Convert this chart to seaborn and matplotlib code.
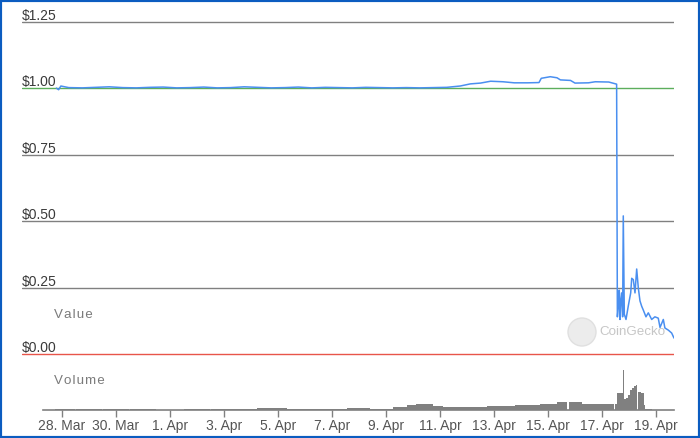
import pandas as pd
import numpy as np
import matplotlib
matplotlib.use("Agg")
import matplotlib.pyplot as plt
import matplotlib.dates as mdates
from matplotlib.patches import Rectangle, Circle
from matplotlib.transforms import IdentityTransform
import seaborn as sns

# price (USD)
price_time = [
    "2022-03-27 19:00", "2022-03-27 21:00", "2022-03-27 23:00", "2022-03-28 06:00", "2022-03-28 18:00",
    "2022-03-29 06:00", "2022-03-29 18:00", "2022-03-30 06:00", "2022-03-30 18:00", "2022-03-31 06:00",
    "2022-03-31 18:00", "2022-04-01 06:00", "2022-04-01 18:00", "2022-04-02 06:00", "2022-04-02 18:00",
    "2022-04-03 06:00", "2022-04-03 18:00", "2022-04-04 06:00", "2022-04-04 18:00", "2022-04-05 06:00",
    "2022-04-05 18:00", "2022-04-06 06:00", "2022-04-06 18:00", "2022-04-07 06:00", "2022-04-07 18:00",
    "2022-04-08 06:00", "2022-04-08 18:00", "2022-04-09 06:00", "2022-04-09 18:00", "2022-04-10 06:00",
    "2022-04-10 18:00", "2022-04-11 06:00", "2022-04-11 18:00", "2022-04-12 03:00", "2022-04-12 12:00",
    "2022-04-12 21:00", "2022-04-13 08:00", "2022-04-13 18:00", "2022-04-14 06:00", "2022-04-14 16:00",
    "2022-04-14 18:00", "2022-04-15 02:00", "2022-04-15 08:00", "2022-04-15 11:00", "2022-04-15 20:00",
    "2022-04-16 00:00", "2022-04-16 12:00", "2022-04-16 18:00", "2022-04-17 06:00", "2022-04-17 13:00",
    "2022-04-17 13:40", "2022-04-17 14:30", "2022-04-17 15:20", "2022-04-17 16:00", "2022-04-17 16:40",
    "2022-04-17 17:30", "2022-04-17 18:20", "2022-04-17 18:55", "2022-04-17 19:50", "2022-04-17 21:20",
    "2022-04-17 23:20", "2022-04-18 01:30", "2022-04-18 02:25", "2022-04-18 03:50", "2022-04-18 05:20",
    "2022-04-18 06:50", "2022-04-18 08:15", "2022-04-18 09:45", "2022-04-18 11:15", "2022-04-18 12:45",
    "2022-04-18 15:05", "2022-04-18 17:10", "2022-04-18 20:10", "2022-04-18 23:00", "2022-04-19 02:00",
    "2022-04-19 03:35", "2022-04-19 06:30", "2022-04-19 07:55", "2022-04-19 10:55", "2022-04-19 13:55",
    "2022-04-19 16:00",
]
price_value = [
    1.001, 0.995, 1.009, 1.003, 1.002,
    1.004, 1.006, 1.003, 1.002, 1.004,
    1.005, 1.002, 1.003, 1.005, 1.002,
    1.003, 1.006, 1.004, 1.002, 1.003,
    1.005, 1.002, 1.004, 1.003, 1.002,
    1.004, 1.003, 1.002, 1.003, 1.002,
    1.003, 1.004, 1.009, 1.017, 1.020,
    1.027, 1.025, 1.021, 1.021, 1.022,
    1.038, 1.044, 1.040, 1.032, 1.030,
    1.020, 1.021, 1.025, 1.024, 1.016,
    0.140, 0.180, 0.240, 0.130, 0.200,
    0.230, 0.140, 0.520, 0.150, 0.130,
    0.180, 0.230, 0.285, 0.280, 0.230,
    0.320, 0.250, 0.200, 0.180, 0.165,
    0.140, 0.155, 0.130, 0.140, 0.135,
    0.100, 0.130, 0.098, 0.090, 0.079,
    0.060,
]

# volume bars: each bar runs from its start time to the next one
vol_time = [
    "2022-03-27 18:00", "2022-03-28 12:00", "2022-03-29 12:00", "2022-03-30 12:00", "2022-03-31 12:00",
    "2022-04-01 12:00", "2022-04-02 12:00", "2022-04-04 05:00", "2022-04-05 08:00", "2022-04-07 13:30",
    "2022-04-08 10:00", "2022-04-09 06:00", "2022-04-09 19:00", "2022-04-10 02:30", "2022-04-10 18:00",
    "2022-04-11 03:00", "2022-04-12 02:30", "2022-04-12 18:00", "2022-04-13 19:00", "2022-04-14 17:00",
    "2022-04-15 08:00", "2022-04-15 17:20", "2022-04-15 18:15", "2022-04-16 06:15", "2022-04-16 22:00",
    "2022-04-17 11:00", "2022-04-17 12:00", "2022-04-17 13:20", "2022-04-17 16:00", "2022-04-17 18:15",
    "2022-04-17 19:10", "2022-04-17 21:20", "2022-04-17 23:00", "2022-04-18 01:00", "2022-04-18 02:40",
    "2022-04-18 04:30", "2022-04-18 06:15", "2022-04-18 07:30", "2022-04-18 08:00", "2022-04-18 10:40",
    "2022-04-18 13:00", "2022-04-18 14:10", "2022-04-18 15:40", "2022-04-18 20:30",
]
vol_value = [
    0.8, 1.0, 0.6, 0.9, 0.5,
    0.7, 0.8, 1.7, 0.6, 1.6,
    0.7, 3.0, 5.0, 5.7, 4.0,
    2.8, 3.0, 4.5, 5.0, 6.0,
    8.2, 0.3, 8.0, 6.2, 5.8,
    0.5, 6.0, 16.7, 16.7, 40.0,
    10.7, 12.0, 15.0, 20.0, 22.0,
    24.0, 25.0, 0.5, 18.0, 17.0,
    5.0, 1.2, 1.0, 0.4,
]
vol_end = "2022-04-19 16:00"

y_ticks = [0.0, 0.25, 0.5, 0.75, 1.0, 1.25]
y_labels = ["$0.00", "$0.25", "$0.50", "$0.75", "$1.00", "$1.25"]
x_ticks = ["2022-03-28", "2022-03-30", "2022-04-01", "2022-04-03", "2022-04-05", "2022-04-07",
           "2022-04-09", "2022-04-11", "2022-04-13", "2022-04-15", "2022-04-17", "2022-04-19"]
x_labels = ["28. Mar", "30. Mar", "1. Apr", "3. Apr", "5. Apr", "7. Apr",
            "9. Apr", "11. Apr", "13. Apr", "15. Apr", "17. Apr", "19. Apr"]

sns.set_style("white")
plt.rcParams["font.family"] = ["Liberation Sans", "DejaVu Sans"]

W, H = 700, 438
fig = plt.figure(figsize=(7, 4.38), dpi=100)

# pixel layout: 28 Mar sits at x=62, one day is 27 px
base = mdates.date2num(pd.Timestamp("2022-03-28"))
def xlim_for(a, b):
    return base + (a - 62) / 27.0, base + (b - 62) / 27.0

# price panel
ax = fig.add_axes([22 / W, (H - 360) / H, (674 - 22) / W, (360 - 8) / H])
ppu = (354 - 22) / 1.25
ax.set_ylim(-(360 - 354) / ppu, 1.25 + (22 - 8) / ppu)

for v in y_ticks:
    col = "#808080"
    if v == 0.0:
        col = "#e8554a"
    elif v == 1.0:
        col = "#5cae5c"
    ax.axhline(v, color=col, lw=1, zorder=1)
for v, lab in zip(y_ticks, y_labels):
    ax.text(0, v + 2 / ppu, lab, transform=ax.get_yaxis_transform(), ha="left", va="baseline",
            fontsize=10, color="#3a3a3a")

# watermark, under the line
ax.add_patch(Circle((582, H - 332), 14, transform=IdentityTransform(),
                    facecolor="#ececec", edgecolor="#e0e0e0", lw=1, zorder=0))
ax.text(599 / W, (H - 332) / H, "CoinGecko", transform=fig.transFigure, ha="left", va="center",
        fontsize=9.6, color="#c6c6c6", zorder=0)

df = pd.DataFrame({"time": pd.to_datetime(price_time), "price": price_value})
sns.lineplot(data=df, x="time", y="price", ax=ax, color="#4a8ff0", lw=1.1, zorder=3)
ax.set_xlim(*xlim_for(22, 674))
ax.set_xlabel("")
ax.set_ylabel("")
ax.set_xticks([])
ax.set_yticks([])
for s in ax.spines.values():
    s.set_visible(False)
ax.patch.set_alpha(0)

fig.text(54 / W, (H - 315) / H, "V\u200aa\u200al\u200au\u200ae", ha="left", va="center",
         fontsize=9.6, color="#7a7a7a")

# volume panel
vax = fig.add_axes([43 / W, (H - 410) / H, (674 - 43) / W, 45 / H])
starts = mdates.date2num(pd.to_datetime(vol_time))
edges = np.append(starts, mdates.date2num(pd.Timestamp(vol_end)))
vax.bar(starts, vol_value, width=np.diff(edges), align="edge", color="#808080", lw=0)
vax.set_xlim(*xlim_for(43, 674))
vax.set_ylim(0, 45)
vax.set_yticks([])
vax.set_xticks(mdates.date2num(pd.to_datetime(x_ticks)))
vax.set_xticklabels(x_labels)
vax.tick_params(axis="x", length=5, width=1, color="#808080", pad=1.5, labelsize=10,
                labelcolor="#555555", bottom=True)
for k in ["top", "left", "right"]:
    vax.spines[k].set_visible(False)
vax.spines["bottom"].set_color("#808080")
vax.spines["bottom"].set_linewidth(1.2)
vax.patch.set_alpha(0)

fig.text(54 / W, (H - 381) / H, "V\u200ao\u200al\u200au\u200am\u200ae", ha="left", va="center",
         fontsize=9.6, color="#7a7a7a")

fig.patches.append(Rectangle((0, 0), 1, 1, transform=fig.transFigure, fill=False,
                             edgecolor="#0b5cc0", lw=3, zorder=10))

fig.savefig("out.png", dpi=100)
